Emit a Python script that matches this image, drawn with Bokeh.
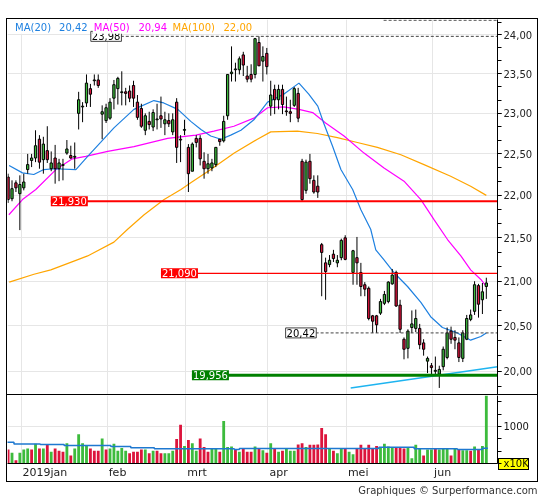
import numpy as np
from bokeh.plotting import figure
from bokeh.models import ColumnDataSource, Range1d, FixedTicker, CustomJSTickFormatter, Label, Div
from bokeh.layouts import column
from bokeh.embed import file_html
from bokeh.resources import INLINE

nan = float("nan")

# ---------------- data ----------------
month_labels = ["2019jan", "feb", "mrt", "apr", "mei", "jun"]
month_idx = [3, 25, 45, 66, 86, 108]

opens = [22.22, 21.96, 22.15, 22.02, 22.09, 22.31, 22.42, 22.45, 22.68, 22.43,
         22.54, 22.32, 22.45, 22.32, 22.36, 22.51, 22.48, 22.46, 23.00, 23.08,
         23.13, 23.31, 23.41, 23.42, 22.99, 22.91, 22.94, 23.19, 23.31, 23.26,
         23.27, 23.28, 23.35, 23.14, 23.06, 22.79, 22.90, 22.83, 22.92, 22.97,
         22.87, 22.91, 22.77, 23.14, 22.68, 22.79, 22.58, 22.29, 22.69, 22.69,
         22.41, 22.32, 22.33, 22.37, 22.68, 22.66, 22.97, 23.50, 23.55, 23.55,
         23.74, 23.47, 23.49, 23.49, 23.90, 23.66, 23.76, 23.09, 23.30, 23.17,
         23.30, 23.03, 23.02, 23.10, 23.25, 22.41, 22.06, 22.41, 22.18, 22.11,
         21.42, 21.21, 21.19, 21.31, 21.21, 21.27, 21.50, nan, 21.10, 21.27,
         21.10, 20.96, 20.92, 20.61, 20.61, 20.64, 20.75, 20.77, 20.97, 21.10,
         20.73, 20.35, 20.25, 20.48, 20.47, 20.47, 20.31, 20.11, 20.06, 20.00,
         19.97, 20.05, 20.15, 20.44, 20.37, 20.31, 20.14, 20.35, 20.57, 20.66,
         20.95, 20.79, 20.94]
highs = [22.26, 22.18, 22.18, 22.24, 22.26, 22.50, 22.50, 22.79, 22.73, 22.71,
         22.84, 22.53, 22.61, 22.44, 22.44, 22.67, 22.60, 22.64, 23.27, 23.14,
         23.49, 23.37, 23.49, 23.49, 23.10, 23.12, 23.19, 23.42, 23.46, 23.53,
         23.32, 23.35, 23.41, 23.23, 23.12, 23.00, 23.02, 23.05, 23.12, 23.21,
         23.02, 23.00, 23.00, 23.19, 22.73, 22.92, 22.62, 22.64, 22.73, 22.73,
         22.52, 22.50, 22.44, 22.58, 22.68, 22.97, 23.49, 23.85, 23.64, 23.72,
         23.78, 23.60, 23.62, 23.96, 23.98, 23.85, 23.83, 23.41, 23.36, 23.36,
         23.36, 23.21, 23.17, 23.33, 23.32, 22.44, 22.43, 22.50, 22.24, 22.24,
         21.44, 21.27, 21.30, 21.36, 21.30, 21.49, 21.53, nan, 21.36, 21.51,
         21.21, 20.99, 20.94, 20.62, 20.62, 20.80, 20.89, 21.00, 21.14, 21.12,
         20.79, 20.37, 20.46, 20.67, 20.68, 20.52, 20.35, 20.16, 20.09, 20.16,
         20.06, 20.27, 20.48, 20.49, 20.45, 20.37, 20.45, 20.62, 20.68, 21.00,
         20.97, 20.98, 21.04]
lows = [21.91, 21.93, 22.04, 21.59, 22.06, 22.26, 22.34, 22.40, 22.32, 22.26,
        22.39, 22.29, 22.14, 22.17, 22.18, 22.49, 22.44, 22.32, 22.80, 22.89,
        23.08, 23.08, 23.35, 23.32, 22.68, 22.88, 22.92, 23.05, 23.11, 23.10,
        23.10, 23.14, 23.08, 22.92, 22.82, 22.73, 22.80, 22.78, 22.80, 22.82,
        22.73, 22.83, 22.73, 22.39, 22.40, 22.73, 22.04, 22.29, 22.58, 22.36,
        22.20, 22.26, 22.29, 22.34, 22.60, 22.64, 22.92, 23.40, 23.40, 23.49,
        23.47, 23.39, 23.39, 23.44, 23.60, 23.40, 23.49, 22.97, 22.99, 23.05,
        22.99, 22.97, 22.89, 23.08, 22.89, 21.93, 22.02, 22.14, 22.02, 21.97,
        20.83, 20.79, 21.16, 21.22, 21.16, 21.24, 21.24, nan, 20.96, 20.96,
        20.83, 20.83, 20.56, 20.42, 20.42, 20.62, 20.73, 20.75, 20.96, 20.71,
        20.42, 20.13, 20.14, 20.42, 20.43, 20.24, 20.17, 19.98, 19.96, 19.96,
        19.82, 20.01, 20.13, 20.30, 20.24, 20.10, 20.10, 20.34, 20.55, 20.62,
        20.59, 20.63, 20.80]
closes = [21.95, 22.08, 22.09, 22.13, 22.16, 22.37, 22.45, 22.60, 22.40, 22.62,
          22.43, 22.39, 22.32, 22.39, 22.37, 22.56, 22.45, 22.47, 23.17, 23.09,
          23.38, 23.24, 23.42, 23.35, 23.02, 23.07, 23.14, 23.36, 23.44, 23.27,
          23.25, 23.19, 23.19, 22.95, 22.84, 22.97, 22.86, 23.01, 22.93, 22.93,
          22.92, 22.87, 22.92, 22.58, 22.67, 22.80, 22.26, 22.62, 22.64, 22.44,
          22.32, 22.38, 22.39, 22.58, 22.65, 22.90, 23.49, 23.52, 23.56, 23.69,
          23.61, 23.43, 23.43, 23.95, 23.60, 23.72, 23.59, 23.23, 23.17, 23.30,
          23.11, 23.02, 23.00, 23.31, 22.94, 21.95, 22.40, 22.20, 22.04, 22.04,
          21.33, 21.11, 21.24, 21.26, 21.24, 21.47, 21.25, nan, 21.35, 21.21,
          20.94, 20.91, 20.58, 20.55, 20.51, 20.77, 20.85, 20.99, 21.07, 20.72,
          20.46, 20.24, 20.44, 20.52, 20.58, 20.29, 20.24, 20.14, 20.04, 20.01,
          20.02, 20.24, 20.42, 20.35, 20.34, 20.15, 20.42, 20.58, 20.62, 20.96,
          20.74, 20.88, 20.98]

# volume in units of 10K
volumes = [376, 291, 85, 291, 376, 402, 376, 530, 402, 402,
           504, 316, 402, 342, 316, 547, 214, 402, 786, 547,
           470, 402, 342, 342, 675, 376, 402, 530, 342, 419,
           342, 274, 316, 316, 376, 376, 274, 342, 342, 274,
           274, 274, 342, 658, 1043, 470, 632, 547, 342, 675,
           444, 316, 402, 402, 316, 1145, 444, 462, 376, 316,
           402, 316, 316, 462, 402, 359, 291, 547, 402, 316,
           342, 402, 342, 342, 513, 547, 444, 504, 504, 513,
           957, 786, 402, 342, 274, 402, 402, 316, 248, 402,
           504, 419, 504, 419, 470, 444, 530, 462, 419, 427,
           419, 402, 419, 145, 504, 402, 214, 376, 376, 402,
           376, 402, 402, 214, 402, 376, 359, 359, 342, 462,
           376, 470, 1900]
vol_up = [0, 1, 0, 1, 1, 1, 0, 1, 0, 1,
          0, 1, 0, 0, 0, 1, 0, 1, 1, 1,
          1, 0, 0, 0, 1, 0, 1, 1, 1, 1,
          1, 0, 0, 0, 0, 1, 0, 1, 0, 0,
          1, 1, 1, 0, 0, 1, 0, 1, 1, 0,
          0, 0, 1, 1, 0, 1, 1, 1, 0, 1,
          0, 0, 0, 1, 0, 1, 0, 1, 0, 1,
          0, 1, 1, 1, 0, 0, 1, 0, 0, 0,
          0, 0, 1, 0, 1, 1, 0, 1, 1, 0,
          0, 0, 0, 0, 0, 1, 1, 1, 1, 0,
          0, 0, 1, 1, 1, 1, 0, 1, 1, 0,
          1, 1, 1, 0, 1, 0, 1, 1, 0, 1,
          0, 1, 1]
vol_unit = "x10K"

vma_x = [-0.4, 1.5, 8.2, 14.3, 26.2, 31.3, 37.3, 57.7, 59.0, 94.6, 103.6, 114.6, 121.0, 122.4]
vma_y = [572, 529, 513, 487, 462, 427, 401, 376, 405, 436, 401, 376, 410, 410]

ma20_x = [0.26, 3.67, 6.56, 9.1, 11.7, 17.3, 20.3, 23.6, 27.0, 32.1, 37.2, 39.7, 43.3, 46.6,
          49.2, 51.7, 54.3, 56.8, 59.4, 62.7, 66.2, 70.3, 74.2, 76.7, 79.0, 80.5, 82.8, 84.9,
          87.9, 90.0, 92.5, 93.8, 95.8, 98.4, 101.9, 105.3, 107.8, 110.8, 114.6, 118.0, 120.6, 122.0]
ma20_y = [22.36, 22.27, 22.25, 22.31, 22.32, 22.31, 22.47, 22.64, 22.82, 23.05, 23.16, 23.13, 23.05, 22.90,
          22.80, 22.72, 22.68, 22.73, 22.79, 22.92, 23.14, 23.24, 23.38, 23.24, 23.09, 22.88, 22.59, 22.31,
          22.07, 21.83, 21.60, 21.36, 21.25, 21.10, 20.94, 20.76, 20.60, 20.48, 20.42, 20.34, 20.38, 20.42]

ma50_x = [0.2, 3.67, 7.07, 12.2, 16.4, 19.8, 25.4, 32.1, 40.7, 47.9, 52.5, 57.6, 62.7, 66.2, 70.3,
          74.2, 77.7, 81.0, 85.7, 90.8, 95.9, 101.0, 105.3, 108.7, 112.1, 115.5, 118.0, 120.6, 122.0]
ma50_y = [21.77, 21.95, 22.07, 22.31, 22.44, 22.47, 22.53, 22.59, 22.69, 22.73, 22.78, 22.84, 22.94, 23.07, 23.08,
          23.05, 23.01, 22.88, 22.72, 22.51, 22.33, 22.17, 21.95, 21.71, 21.48, 21.29, 21.13, 21.02, 20.94]

ma100_x = [0.3, 6.6, 10.9, 16.8, 20.3, 27.0, 30.5, 34.7, 39.8, 44.1, 46.6, 51.7, 57.7, 63.6, 67.0,
           73.8, 78.9, 84.0, 89.1, 94.2, 100.2, 106.1, 112.9, 118.0, 122.0]
ma100_y = [20.99, 21.08, 21.13, 21.23, 21.29, 21.45, 21.60, 21.77, 21.95, 22.07, 22.15, 22.31, 22.51, 22.68, 22.77,
           22.78, 22.75, 22.70, 22.64, 22.58, 22.49, 22.37, 22.23, 22.11, 22.00]

trend_x = [87.4, 124.85]
trend_y = [19.82, 20.05]

resist_levels = [21.93, 21.09]     # red levels
support_levels = [19.956]          # green level
mark_levels = [23.98, 20.42]       # dashed marks (high, last MA20)
top_level = 24.19                  # dashed line at the top edge

# ---------------- styling ----------------
FONT = "DejaVu Sans"
GREEN = "#3DBB3D"
RED = "#DC143C"
C20 = "#1E80E0"
C50 = "#FF00FF"
C100 = "#FFA500"
GRID = "#E6E6E6"
X0, X1 = -0.15, 124.85
PX = 3.92  # pixels per trading day

n = len(opens)
idx = np.arange(n)
o = np.array(opens, dtype=float)
c = np.array(closes, dtype=float)
up = c >= o
src = ColumnDataSource(dict(
    x=idx, o=o, h=np.array(highs, dtype=float), l=np.array(lows, dtype=float), c=c,
    top=np.maximum(o, c), bot=np.minimum(o, c),
    col=[GREEN if u else RED for u in up],
))
vsrc = ColumnDataSource(dict(x=idx, v=np.array(volumes, dtype=float),
                             col=[GREEN if u else RED for u in vol_up]))

grid_ticks = [m + 0.3 for m in month_idx]
# month labels sit just right of their grid line (axis labels are centred on ticks)
half_w = [22.4, 8.8, 9.8, 9.1, 10.3, 8.5]
label_ticks = [g + (1.5 + hw) / PX for g, hw in zip(grid_ticks, half_w)]
month_fmt = CustomJSTickFormatter(args=dict(labels=month_labels, pos=label_ticks), code="""
let k = 0;
for (let j = 1; j < pos.length; j++) { if (Math.abs(tick - pos[j]) < Math.abs(tick - pos[k])) k = j; }
return labels[k];
""")
price_fmt = CustomJSTickFormatter(code="return tick.toFixed(2).replace('.', ',');")
vol_fmt = CustomJSTickFormatter(args=dict(unit=vol_unit),
                                code="return tick < 500 ? unit : tick.toFixed(0);")

# ---------------- price panel ----------------
p1 = figure(width=530, height=376, x_range=Range1d(X0, X1), y_range=Range1d(19.739, 24.200),
            y_axis_type="log", y_axis_location="right", x_axis_location=None,
            toolbar_location=None, output_backend="svg",
            min_border_left=0, min_border_right=40, min_border_top=0, min_border_bottom=0)
p1.outline_line_color = None
p1.styles = {"border-bottom": "1px solid black"}
p1.background_fill_color = "white"
p1.xgrid.ticker = FixedTicker(ticks=grid_ticks)
p1.xgrid.grid_line_color = GRID
p1.ygrid.grid_line_color = GRID

major = [20.0 + 0.5 * k for k in range(9)]
minor = [19.8333 + k / 6.0 for k in range(27)]
yax = p1.yaxis[0]
yax.ticker = FixedTicker(ticks=major, minor_ticks=minor)
yax.formatter = price_fmt
yax.major_label_text_font = FONT
yax.major_label_text_font_size = "10px"
yax.major_label_text_color = "#222222"
yax.major_tick_in = 0
yax.major_tick_out = 4
yax.minor_tick_in = 0
yax.minor_tick_out = 4
yax.major_label_standoff = 2
yax.axis_line_color = "black"

# moving averages and trend line
p1.line(ma100_x, ma100_y, line_color=C100, line_width=1.2)
p1.line(ma50_x, ma50_y, line_color=C50, line_width=1.2)
p1.line(ma20_x, ma20_y, line_color=C20, line_width=1.2)
p1.line(trend_x, trend_y, line_color="#1EB4F0", line_width=1.5)

# candles
p1.segment(x0="x", y0="l", x1="x", y1="h", source=src, line_color="black", line_width=1)
p1.vbar(x="x", width=0.58, top="top", bottom="bot", source=src,
        fill_color="col", line_color="black", line_width=1)

# levels
p1.segment(x0=[10.9], x1=[X1], y0=[resist_levels[0]], y1=[resist_levels[0]], line_color="#FF0000", line_width=2.2)
p1.segment(x0=[39.0], x1=[X1], y0=[resist_levels[1]], y1=[resist_levels[1]], line_color="#FF0000", line_width=1.2)
p1.segment(x0=[46.9], x1=[X1], y0=[support_levels[0]], y1=[support_levels[0]], line_color="#008000", line_width=3)
p1.segment(x0=[21.1], x1=[X1], y0=[mark_levels[0]], y1=[mark_levels[0]], line_color="#444444", line_width=1, line_dash="3 2")
p1.segment(x0=[70.8], x1=[X1], y0=[mark_levels[1]], y1=[mark_levels[1]], line_color="#444444", line_width=1, line_dash="3 2")
p1.segment(x0=[95.8], x1=[X1], y0=[top_level], y1=[top_level], line_color="#444444", line_width=1, line_dash="3 2")

def lvl_label(x, y, text, bg, fg, border=None):
    p1.add_layout(Label(x=x, y=y, text=text, text_font=FONT, text_font_size="10px",
                        text_color=fg, text_baseline="middle", text_align="left",
                        background_fill_color=bg, border_line_color=border, padding=1))

lvl_label(10.9, resist_levels[0], f"{resist_levels[0]:.3f}".replace(".", ","), "#FF0000", "white")
lvl_label(39.0, resist_levels[1], f"{resist_levels[1]:.3f}".replace(".", ","), "#FF0000", "white")
lvl_label(46.9, support_levels[0], f"{support_levels[0]:.3f}".replace(".", ","), "#008000", "white")
lvl_label(70.8, mark_levels[1], f"{mark_levels[1]:.2f}".replace(".", ","), "white", "black", "#444444")
lvl_label(21.1, mark_levels[0], f"{mark_levels[0]:.2f}".replace(".", ","), "white", "black", "#444444")

# legend line at top
legend_items = [("MA(20)", C20, 1.53), (f"{ma20_y[-1]:.2f}".replace(".", ","), C20, 12.76),
                ("MA(50)", C50, 21.6), (f"{ma50_y[-1]:.2f}".replace(".", ","), C50, 33.0),
                ("MA(100)", C100, 41.7), (f"{ma100_y[-1]:.2f}".replace(".", ","), C100, 54.7)]
for txt, col, lx in legend_items:
    p1.add_layout(Label(x=lx, y=24.10, text=txt, text_font=FONT, text_font_size="10px",
                        text_color=col, text_baseline="middle", text_align="left",
                        background_fill_color="white", padding=1))

# ---------------- volume panel ----------------
p2 = figure(width=530, height=86, x_range=p1.x_range, y_range=Range1d(0, 1835),
            y_axis_location="right", toolbar_location=None, output_backend="svg",
            min_border_left=0, min_border_right=40, min_border_top=0, min_border_bottom=15)
p2.outline_line_color = None
p2.xgrid.ticker = FixedTicker(ticks=grid_ticks)
p2.xgrid.grid_line_color = GRID
p2.ygrid.ticker = FixedTicker(ticks=[1000])
p2.ygrid.grid_line_color = GRID
p2.vbar(x="x", top="v", bottom=0, width=0.72, source=vsrc, fill_color="col", line_color=None)
p2.step(vma_x, vma_y, mode="after", line_color="#1E78D0", line_width=1.5)

vax = p2.yaxis[0]
vax.ticker = FixedTicker(ticks=[0, 1000], minor_ticks=[1000 / 3, 2000 / 3, 4000 / 3, 5000 / 3])
vax.formatter = vol_fmt
vax.major_label_text_font = FONT
vax.major_label_text_font_size = "10px"
vax.major_label_text_color = "#111111"
vax.major_tick_in = 0
vax.major_tick_out = 4
vax.minor_tick_in = 0
vax.minor_tick_out = 4
vax.major_label_standoff = 2
vax.axis_line_color = "black"

xax = p2.xaxis[0]
xax.ticker = FixedTicker(ticks=label_ticks)
xax.formatter = month_fmt
xax.major_label_text_font = FONT
xax.major_label_text_font_size = "11px"
xax.major_label_text_color = "#222222"
xax.major_tick_in = 0
xax.major_tick_out = 0
xax.minor_tick_in = 0
xax.minor_tick_out = 0
xax.major_label_standoff = 2
xax.axis_line_color = "black"

# ---------------- footer ----------------
p3 = figure(width=530, height=16, toolbar_location=None, output_backend="svg",
            x_axis_location=None, y_axis_location=None, min_border=0,
            title="Graphiques © Surperformance.com", margin=(0, 0, 0, 7))
p3.outline_line_color = None
p3.grid.visible = False
p3.title.align = "right"
p3.title.standoff = 0
p3.title.text_font = FONT
p3.title.text_font_size = "10px"
p3.title.text_font_style = "normal"
p3.title.text_color = "#333333"

# yellow highlight behind the volume unit label (multiply blend keeps the text black)
unit_box = Div(text="", width=31, height=12, margin=0,
               styles={"position": "absolute", "left": "498px", "top": "458px",
                       "background-color": "#FFFF00", "border": "1px solid black",
                       "box-sizing": "border-box", "mix-blend-mode": "multiply",
                       "pointer-events": "none"})

inner = column(p1, p2, margin=(18, 0, 0, 6),
               styles={"border": "1px solid black"})
layout = column(inner, p3, unit_box)

open("out.html", "w").write(file_html(layout, INLINE, title="chart"))
